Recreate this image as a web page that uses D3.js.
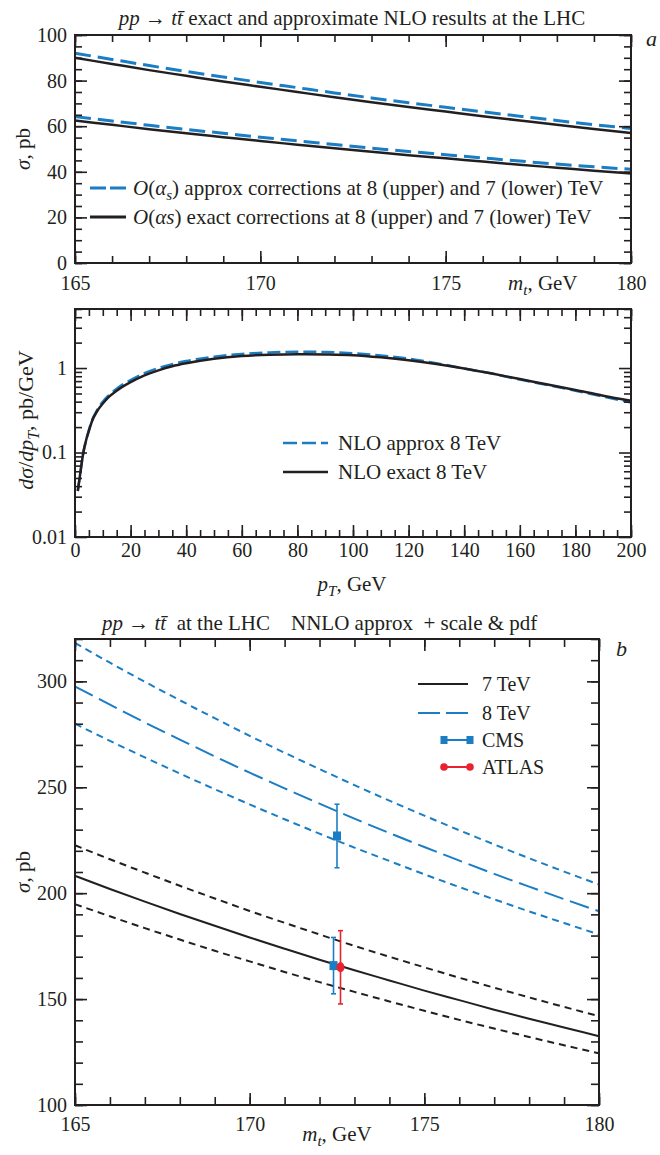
<!DOCTYPE html>
<html><head><meta charset="utf-8">
<script src="https://cdn.jsdelivr.net/npm/d3@7"></script>
<style>
body{margin:0;background:#fff;}
svg text{font-family:"Liberation Serif","Times New Roman",serif;fill:#231f20;white-space:pre;}
</style></head><body>
<svg id="chart" width="660" height="1155"></svg>
<script>
// ---- top panel: total cross section vs top mass, NLO approx vs exact ----
const massA = [165,166,167,168,169,170,171,172,173,174,175,176,177,178,179,180];
const approx8 = [92.0,89.3,86.6,84.0,81.6,79.2,76.9,74.6,72.4,70.3,68.3,66.3,64.4,62.5,60.7,59.0];
const exact8  = [90.0,87.3,84.6,82.1,79.6,77.3,75.0,72.7,70.5,68.4,66.4,64.4,62.5,60.6,58.8,57.0];
const approx7 = [64.2,62.3,60.4,58.6,56.9,55.2,53.6,52.0,50.4,48.9,47.5,46.1,44.7,43.4,42.2,41.1];
const exact7  = [62.5,60.6,58.7,56.9,55.2,53.5,51.9,50.3,48.8,47.3,45.9,44.5,43.1,41.8,40.5,39.3];
const ticksAx = [165,170,175,180];
const ticksAy = [0,20,40,60,80,100];

// ---- middle panel: pT distribution at 8 TeV ----
const ptGrid   = [1,2,3,4,5,6,8,10,12,15,20,25,30,35,40,50,60,70,80,90,100,110,120,130,140,150,160,170,180,190,200];
const ptApprox = [0.035,0.06,0.10,0.14,0.185,0.235,0.32,0.40,0.47,0.57,0.72,0.87,1.00,1.11,1.21,1.36,1.47,1.53,1.56,1.55,1.50,1.41,1.29,1.14,0.99,0.86,0.73,0.63,0.54,0.46,0.39];
const ptExact  = [0.035,0.06,0.10,0.14,0.18,0.23,0.31,0.38,0.45,0.54,0.68,0.82,0.94,1.05,1.14,1.29,1.39,1.44,1.46,1.45,1.42,1.34,1.24,1.12,0.99,0.86,0.74,0.64,0.55,0.47,0.41];
const ticksMx = [0,20,40,60,80,100,120,140,160,180,200];
const ticksMy = [0.01,0.1,1];

// ---- bottom panel: NNLO approx with scale & pdf band ----
const massB = [165,166,167,168,169,170,171,172,173,174,175,176,177,178,179,180];
const nnlo7    = [208.2,202.0,196.0,190.2,184.6,179.1,173.8,168.6,163.6,158.8,154.0,149.5,145.0,140.7,136.6,132.5];
const nnlo7Hi  = [222.6,216.0,209.7,203.5,197.5,191.6,186.0,180.5,175.1,170.0,165.0,160.1,155.4,150.8,146.3,142.0];
const nnlo7Lo  = [194.8,189.1,183.5,178.1,172.8,167.8,162.8,158.0,153.4,148.9,144.5,140.2,136.1,132.1,128.2,124.4];
const nnlo8    = [297.6,289.0,280.6,272.5,264.6,256.9,249.5,242.3,235.2,228.4,221.8,215.4,209.1,203.1,197.2,191.5];
const nnlo8Hi  = [318.1,308.8,299.8,291.1,282.6,274.3,266.3,258.6,251.0,243.7,236.6,229.7,223.0,216.5,210.2,204.1];
const nnlo8Lo  = [280.0,271.9,264.1,256.5,249.1,241.9,234.9,228.1,221.5,215.2,208.9,202.9,197.1,191.4,185.9,180.5];
const measName  = ["CMS","ATLAS","CMS"];
const measMass  = [172.4,172.6,172.5];
const measSigma = [165.8,165.0,227.0];
const measErr   = [13.3,17.3,15.0];
const ticksBx = [165,170,175,180];
const ticksBy = [100,150,200,250,300];

const INK = "#231f20", BLUE = "#1b7dc3", RED = "#e8232f";
const FONT = '"Liberation Serif","Times New Roman",serif';
const svg = d3.select("#chart").attr("font-family", FONT);

// text made of plain / italic / subscript pieces
function rich(g, x, y, segs, size, opt = {}) {
  const t = g.append("text").attr("x", x).attr("y", y).attr("font-size", size)
    .attr("font-family", FONT).attr("text-anchor", opt.anchor || "start");
  if (opt.rotate) t.attr("transform", `rotate(-90,${x},${y})`);
  let shift = 0;
  segs.forEach(s => {
    const sp = t.append("tspan").text(s.t);
    if (s.i) sp.attr("font-style", "italic");
    const target = s.sub ? size * 0.25 : 0;
    if (target !== shift) { sp.attr("dy", target - shift); shift = target; }
    if (s.sub) sp.attr("font-size", size * 0.72);
  });
  return t;
}

// box frame with inward ticks on all four sides
function frame(g, x, y, o) {
  const [x0, x1] = x.range(), [y0, y1] = y.range();
  const style = sel => {
    sel.select(".domain").remove();
    sel.selectAll(".tick line").attr("stroke", INK).attr("stroke-width", 1.6);
    sel.selectAll(".tick text").attr("font-size", o.fs || 20).attr("fill", INK).attr("font-family", FONT);
  };
  const add = (gen, tx, ty) => g.append("g").attr("transform", `translate(${tx},${ty})`).call(gen).call(style);
  // minor ticks
  add(d3.axisBottom(x).tickValues(o.xMinor).tickSize(-o.minor).tickFormat(""), 0, y0);
  add(d3.axisTop(x).tickValues(o.xMinor).tickSize(-o.minor).tickFormat(""), 0, y1);
  add(d3.axisLeft(y).tickValues(o.yMinor).tickSize(-o.minor).tickFormat(""), x0, 0);
  add(d3.axisRight(y).tickValues(o.yMinor).tickSize(-o.minor).tickFormat(""), x1, 0);
  // major ticks with labels
  add(d3.axisBottom(x).tickValues(o.xMajor).tickSize(-o.major).tickPadding(o.xPad).tickFormat(o.xFmt || d3.format("d")), 0, y0);
  add(d3.axisTop(x).tickValues(o.xMajor).tickSize(-o.major).tickFormat(""), 0, y1);
  add(d3.axisLeft(y).tickValues(o.yMajor).tickSize(-o.major).tickPadding(8).tickFormat(o.yFmt || d3.format("d")), x0, 0);
  add(d3.axisRight(y).tickValues(o.yMajor).tickSize(-o.major).tickFormat(""), x1, 0);
  g.append("rect").attr("x", x0).attr("y", y1).attr("width", x1 - x0).attr("height", y0 - y1)
    .attr("fill", "none").attr("stroke", INK).attr("stroke-width", 2);
}

function curve(g, x, y, xs, ys, stroke, width, dash) {
  const line = d3.line().x(d => x(d[0])).y(d => y(d[1])).curve(d3.curveMonotoneX);
  const p = g.append("path").datum(xs.map((v, i) => [v, ys[i]])).attr("d", line)
    .attr("fill", "none").attr("stroke", stroke).attr("stroke-width", width);
  if (dash) p.attr("stroke-dasharray", dash);
  return p;
}

const pp = [{t:"pp", i:1}, {t:" → "}, {t:"t", i:1}, {t:"t\u0304", i:1}];

// ================= panel a =================
{
  const g = svg.append("g");
  const x = d3.scaleLinear([165, 180], [75, 631]);
  const y = d3.scaleLinear([0, 100], [263, 35]);
  curve(g, x, y, massA, exact8, INK, 2.5);
  curve(g, x, y, massA, exact7, INK, 2.5);
  curve(g, x, y, massA, approx8, BLUE, 3, "16,7");
  curve(g, x, y, massA, approx7, BLUE, 3, "16,7");
  frame(g, x, y, {xMajor: ticksAx, xMinor: d3.range(165, 181), yMajor: ticksAy, yMinor: d3.range(0, 101, 5),
    major: 12, minor: 7, xPad: 13});
  rich(g, 352, 25, pp.concat([{t:" exact and approximate NLO results at the LHC"}]), 21, {anchor: "middle"});
  g.append("text").attr("x", 646).attr("y", 46).attr("font-size", 22).attr("font-style", "italic").text("a");
  rich(g, 30, 149, [{t:"σ", i:1}, {t:", pb"}], 21, {anchor: "middle", rotate: 1});
  rich(g, 508, 290, [{t:"m", i:1}, {t:"t", i:1, sub:1}, {t:", GeV"}], 21);
  // legend
  g.append("line").attr("x1", 90).attr("x2", 126).attr("y1", 188).attr("y2", 188)
    .attr("stroke", BLUE).attr("stroke-width", 3).attr("stroke-dasharray", "16,4");
  rich(g, 133, 195, [{t:"O", i:1}, {t:"("}, {t:"α", i:1}, {t:"s", i:1, sub:1}, {t:") approx corrections at 8 (upper) and 7 (lower) TeV"}], 21);
  g.append("line").attr("x1", 90).attr("x2", 126).attr("y1", 217).attr("y2", 217)
    .attr("stroke", INK).attr("stroke-width", 3);
  rich(g, 133, 224, [{t:"O", i:1}, {t:"("}, {t:"αs", i:1}, {t:") exact corrections at 8 (upper) and 7 (lower) TeV"}], 21);
}

// ================= middle panel =================
{
  const g = svg.append("g");
  const x = d3.scaleLinear([0, 200], [75, 631]);
  const y = d3.scaleLog([0.01, 5], [537, 309]);
  const minorY = [];
  [0.01, 0.1, 1].forEach(d => { for (let k = 2; k <= 9; k++) if (d * k <= 5) minorY.push(d * k); });
  curve(g, x, y, ptGrid, ptApprox, BLUE, 2.5, "13,5");
  curve(g, x, y, ptGrid, ptExact, INK, 2.5);
  frame(g, x, y, {xMajor: ticksMx, xMinor: d3.range(0, 201, 5), yMajor: ticksMy, yMinor: minorY,
    major: 12, minor: 7, xPad: 6, yFmt: d => d >= 1 ? d3.format("d")(d) : String(d)});
  rich(g, 33, 420, [{t:"d", i:1}, {t:"σ", i:1}, {t:"/"}, {t:"dp", i:1}, {t:"T", i:1, sub:1}, {t:", pb/GeV"}], 22, {anchor: "middle", rotate: 1});
  rich(g, 352, 591, [{t:"p", i:1}, {t:"T", i:1, sub:1}, {t:", GeV"}], 21, {anchor: "middle"});
  g.append("line").attr("x1", 283).attr("x2", 328).attr("y1", 443).attr("y2", 443)
    .attr("stroke", BLUE).attr("stroke-width", 2.5).attr("stroke-dasharray", "14,5");
  g.append("text").attr("x", 338).attr("y", 450).attr("font-size", 21).text("NLO approx 8 TeV");
  g.append("line").attr("x1", 283).attr("x2", 328).attr("y1", 472).attr("y2", 472)
    .attr("stroke", INK).attr("stroke-width", 2.5);
  g.append("text").attr("x", 338).attr("y", 479).attr("font-size", 21).text("NLO exact 8 TeV");
}

// ================= panel b =================
{
  const g = svg.append("g");
  const x = d3.scaleLinear([165, 180], [75, 599]);
  const y = d3.scaleLinear([100, 320], [1105, 639]);
  curve(g, x, y, massB, nnlo8Hi, BLUE, 2, "7,5");
  curve(g, x, y, massB, nnlo8Lo, BLUE, 2, "7,5");
  curve(g, x, y, massB, nnlo8, BLUE, 2, "20,7");
  curve(g, x, y, massB, nnlo7Hi, INK, 2, "7,5");
  curve(g, x, y, massB, nnlo7Lo, INK, 2, "7,5");
  curve(g, x, y, massB, nnlo7, INK, 2);
  frame(g, x, y, {xMajor: ticksBx, xMinor: d3.range(165, 181), yMajor: ticksBy, yMinor: d3.range(100, 321, 10),
    major: 12, minor: 8, xPad: 12});
  // measurements with error bars
  measName.forEach((n, i) => {
    const c = n === "CMS" ? BLUE : RED;
    const cx = x(measMass[i]);
    const top = y(measSigma[i] + measErr[i]), bot = y(measSigma[i] - measErr[i]);
    g.append("line").attr("x1", cx).attr("x2", cx).attr("y1", top).attr("y2", bot).attr("stroke", c).attr("stroke-width", 1.6);
    [top, bot].forEach(v => g.append("line").attr("x1", cx - 2.5).attr("x2", cx + 2.5).attr("y1", v).attr("y2", v)
      .attr("stroke", c).attr("stroke-width", 1.6));
    if (n === "CMS") g.append("rect").attr("x", cx - 4).attr("y", y(measSigma[i]) - 4.5).attr("width", 8).attr("height", 9).attr("fill", c);
    else g.append("ellipse").attr("cx", cx).attr("cy", y(measSigma[i])).attr("rx", 4).attr("ry", 5).attr("fill", c);
  });
  rich(g, 102, 630, pp.concat([{t:"  at the LHC    NNLO approx  + scale & pdf"}]), 21);
  g.append("text").attr("x", 616).attr("y", 656).attr("font-size", 22).attr("font-style", "italic").text("b");
  rich(g, 30, 872, [{t:"σ", i:1}, {t:", pb"}], 21, {anchor: "middle", rotate: 1});
  rich(g, 337, 1141, [{t:"m", i:1}, {t:"t", i:1, sub:1}, {t:", GeV"}], 21, {anchor: "middle"});
  // legend
  g.append("line").attr("x1", 418).attr("x2", 468).attr("y1", 684).attr("y2", 684).attr("stroke", INK).attr("stroke-width", 2);
  g.append("text").attr("x", 482).attr("y", 691).attr("font-size", 20).text("7 TeV");
  g.append("line").attr("x1", 418).attr("x2", 468).attr("y1", 713).attr("y2", 713).attr("stroke", BLUE).attr("stroke-width", 2).attr("stroke-dasharray", "22,6");
  g.append("text").attr("x", 482).attr("y", 720).attr("font-size", 20).text("8 TeV");
  g.append("line").attr("x1", 444).attr("x2", 470).attr("y1", 740).attr("y2", 740).attr("stroke", BLUE).attr("stroke-width", 2);
  [444, 470].forEach(v => g.append("rect").attr("x", v - 3.5).attr("y", 736).attr("width", 7).attr("height", 8).attr("fill", BLUE));
  g.append("text").attr("x", 482).attr("y", 747).attr("font-size", 20).text("CMS");
  g.append("line").attr("x1", 444).attr("x2", 470).attr("y1", 767).attr("y2", 767).attr("stroke", RED).attr("stroke-width", 2);
  [444, 470].forEach(v => g.append("circle").attr("cx", v).attr("cy", 767).attr("r", 3.8).attr("fill", RED));
  g.append("text").attr("x", 482).attr("y", 774).attr("font-size", 20).text("ATLAS");
}
</script>
</body></html>
